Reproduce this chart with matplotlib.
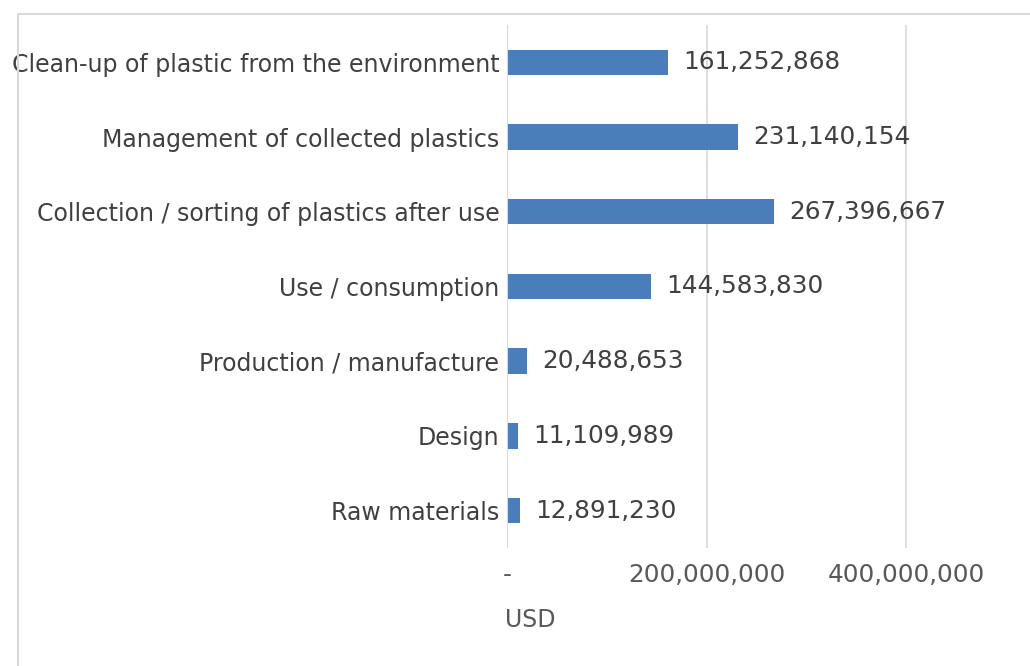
import matplotlib
matplotlib.use("Agg")
import matplotlib.pyplot as plt
from matplotlib.patches import Rectangle
from matplotlib.ticker import FixedLocator, FuncFormatter

categories = [
    "Raw materials",
    "Design",
    "Production / manufacture",
    "Use / consumption",
    "Collection / sorting of plastics after use",
    "Management of collected plastics",
    "Clean-up of plastic from the environment",
]
values = [12891230, 11109989, 20488653, 144583830, 267396667, 231140154, 161252868]
x_ticks = [0, 200_000_000, 400_000_000]
x_title = "USD"

BAR_COLOR = "#4a7ebb"
GRID_COLOR = "#d9d9d9"
TEXT_COLOR = "#404040"
FS = 17
FS_NUM = 17.8

fig = plt.figure(figsize=(10.30, 6.66), dpi=100)
ax = fig.add_axes([0.4922, 0.1772, 0.4845, 0.7853])

ypos = list(range(len(categories)))
ax.barh(ypos, values, height=0.34, color=BAR_COLOR, zorder=3)

ax.set_xlim(0, 500_000_000)
ax.set_ylim(-0.5, len(categories) - 0.5)
ax.set_yticks(ypos)
ax.set_yticklabels(categories, fontsize=FS, color=TEXT_COLOR)

ax.xaxis.set_major_locator(FixedLocator(x_ticks))
ax.xaxis.set_major_formatter(FuncFormatter(lambda v, p: "-" if v == 0 else f"{v:,.0f}"))
ax.tick_params(axis="x", labelsize=FS_NUM, labelcolor="#595959", length=0, pad=10.5)
ax.tick_params(axis="y", length=0, pad=5.5)
ax.grid(axis="x", color=GRID_COLOR, linewidth=1.2, zorder=0)
ax.axvline(0, color=GRID_COLOR, linewidth=1.5, zorder=4)
for s in ax.spines.values():
    s.set_visible(False)

for y, v in zip(ypos, values):
    ax.annotate(f"{v:,}", xy=(v, y), xytext=(11, 0), textcoords="offset points",
                ha="left", va="center", fontsize=FS_NUM, color=TEXT_COLOR)

fig.text(530 / 1030, 1 - 620 / 666, x_title, ha="center", va="center",
         fontsize=FS, color="#595959")

# chart-area border (only top and left edges fall inside the canvas)
fig.patches.append(Rectangle((18 / 1030, -0.1), 1.2, 1 - 14 / 666 + 0.1,
                             transform=fig.transFigure, fill=False,
                             edgecolor=GRID_COLOR, linewidth=1.5))

fig.savefig("out.png", dpi=100)
